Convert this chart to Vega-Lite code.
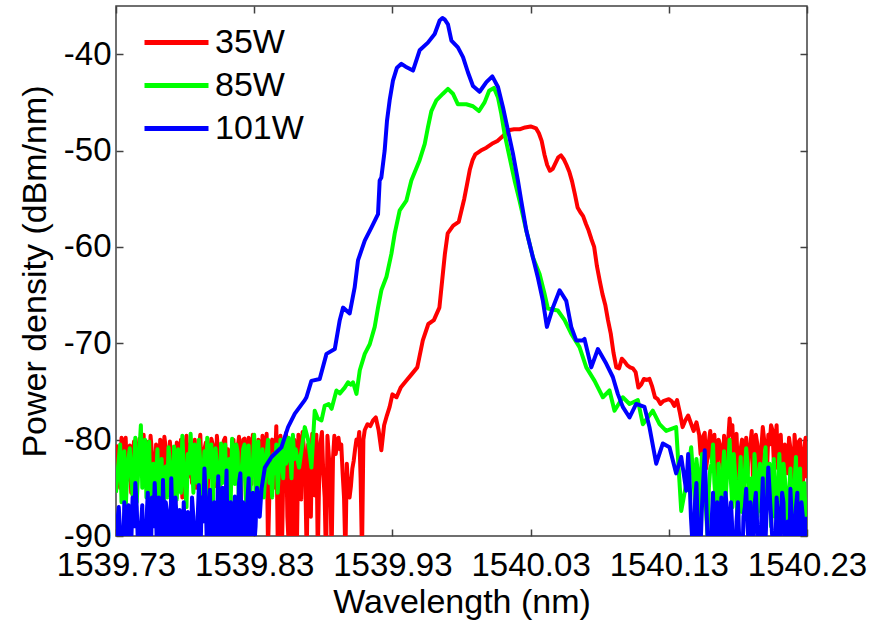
{
"$schema": "https://vega.github.io/schema/vega-lite/v6.json",
"width": 691, "height": 530,
"autosize": {"type": "none"},
"padding": {"left": 116, "top": 6, "right": 77, "bottom": 85},
"background": "white",
"config": {
 "view": {"stroke": "#404040", "strokeWidth": 1.5},
 "font": "Liberation Sans",
 "axis": {"grid": false, "domain": false, "tickColor": "#404040", "tickWidth": 1.5, "tickSize": -7,
  "labelFont": "Liberation Sans", "labelFontSize": 33, "labelColor": "#000",
  "titleFont": "Liberation Sans", "titleFontSize": 34, "titleFontWeight": "normal", "titleColor": "#000",
  "labelFlush": false, "labelOverlap": false, "labelBound": false}
},
"datasets": {
"r": [
{"w":1539.730,"p":-80.5},{"w":1539.732,"p":-83.0},{"w":1539.734,"p":-79.8},{"w":1539.736,"p":-81.5},{"w":1539.738,"p":-84.2},
{"w":1539.740,"p":-80.6},{"w":1539.742,"p":-82.8},{"w":1539.744,"p":-86.5},{"w":1539.746,"p":-81.0},{"w":1539.748,"p":-83.5},
{"w":1539.750,"p":-79.5},{"w":1539.752,"p":-80.2},{"w":1539.754,"p":-84.0},{"w":1539.756,"p":-81.3},{"w":1539.758,"p":-88.0},
{"w":1539.760,"p":-82.5},{"w":1539.762,"p":-80.0},{"w":1539.764,"p":-83.7},{"w":1539.766,"p":-80.9},{"w":1539.768,"p":-85.5},
{"w":1539.770,"p":-81.8},{"w":1539.772,"p":-84.4},{"w":1539.774,"p":-80.3},{"w":1539.776,"p":-82.6},{"w":1539.778,"p":-86.0},
{"w":1539.780,"p":-81.2},{"w":1539.782,"p":-83.9},{"w":1539.784,"p":-80.4},{"w":1539.786,"p":-82.1},{"w":1539.788,"p":-85.0},
{"w":1539.790,"p":-80.8},{"w":1539.792,"p":-83.3},{"w":1539.794,"p":-81.0},{"w":1539.796,"p":-87.0},{"w":1539.798,"p":-82.0},
{"w":1539.800,"p":-80.5},{"w":1539.802,"p":-84.8},{"w":1539.804,"p":-81.6},{"w":1539.806,"p":-83.0},{"w":1539.808,"p":-80.1},
{"w":1539.810,"p":-85.7},{"w":1539.812,"p":-82.4},{"w":1539.814,"p":-80.6},{"w":1539.816,"p":-84.1},{"w":1539.818,"p":-81.0},
{"w":1539.820,"p":-88.5},{"w":1539.822,"p":-80.0},{"w":1539.824,"p":-82.9},{"w":1539.826,"p":-79.8},{"w":1539.828,"p":-84.6},
{"w":1539.830,"p":-80.4},{"w":1539.832,"p":-86.8},{"w":1539.834,"p":-81.1},{"w":1539.836,"p":-79.6},{"w":1539.838,"p":-83.5},
{"w":1539.840,"p":-91.5},{"w":1539.842,"p":-80.9},{"w":1539.844,"p":-85.0},{"w":1539.846,"p":-78.6},{"w":1539.848,"p":-81.4},
{"w":1539.850,"p":-92.0},{"w":1539.852,"p":-82.0},{"w":1539.854,"p":-88.0},{"w":1539.856,"p":-80.1},{"w":1539.858,"p":-93.0},
{"w":1539.860,"p":-84.5},{"w":1539.862,"p":-79.5},{"w":1539.864,"p":-86.2},{"w":1539.866,"p":-81.0},{"w":1539.868,"p":-92.5},
{"w":1539.870,"p":-82.2},{"w":1539.872,"p":-79.4},{"w":1539.874,"p":-85.8},{"w":1539.876,"p":-92.0},{"w":1539.878,"p":-80.3},
{"w":1539.880,"p":-83.6},{"w":1539.882,"p":-93.0},{"w":1539.884,"p":-81.7},{"w":1539.886,"p":-92.0},{"w":1539.888,"p":-79.6},
{"w":1539.890,"p":-80.5},{"w":1539.892,"p":-81.0},{"w":1539.894,"p":-83.5},{"w":1539.896,"p":-92.0},{"w":1539.898,"p":-85.0},
{"w":1539.900,"p":-84.8},{"w":1539.902,"p":-82.2},{"w":1539.904,"p":-80.0},{"w":1539.906,"p":-79.2},{"w":1539.908,"p":-92.0},
{"w":1539.910,"p":-79.0},{"w":1539.912,"p":-78.4},{"w":1539.914,"p":-78.6},{"w":1539.916,"p":-78.0},{"w":1539.918,"p":-77.7},
{"w":1539.920,"p":-79.0},{"w":1539.922,"p":-81.1},{"w":1539.924,"p":-78.5},{"w":1539.926,"p":-77.5},{"w":1539.928,"p":-76.6},
{"w":1539.930,"p":-75.3},{"w":1539.933,"p":-75.6},{"w":1539.936,"p":-74.6},{"w":1539.940,"p":-73.9},{"w":1539.944,"p":-73.2},
{"w":1539.948,"p":-72.5},{"w":1539.952,"p":-69.7},{"w":1539.956,"p":-68.0},{"w":1539.960,"p":-67.6},{"w":1539.964,"p":-66.3},
{"w":1539.966,"p":-63.5},{"w":1539.968,"p":-60.7},{"w":1539.970,"p":-58.6},{"w":1539.974,"p":-57.8},{"w":1539.978,"p":-57.4},
{"w":1539.980,"p":-56.2},{"w":1539.982,"p":-55.0},{"w":1539.984,"p":-53.5},{"w":1539.986,"p":-52.0},{"w":1539.988,"p":-51.0},
{"w":1539.990,"p":-50.4},{"w":1539.994,"p":-50.0},{"w":1539.998,"p":-49.7},{"w":1540.002,"p":-49.3},{"w":1540.006,"p":-49.0},
{"w":1540.010,"p":-48.5},{"w":1540.014,"p":-47.9},{"w":1540.018,"p":-47.8},{"w":1540.022,"p":-47.8},{"w":1540.026,"p":-47.6},
{"w":1540.030,"p":-47.5},{"w":1540.034,"p":-47.7},{"w":1540.036,"p":-48.2},{"w":1540.038,"p":-49.0},{"w":1540.040,"p":-50.4},
{"w":1540.042,"p":-51.5},{"w":1540.044,"p":-52.1},{"w":1540.046,"p":-51.9},{"w":1540.048,"p":-51.3},{"w":1540.050,"p":-50.7},
{"w":1540.052,"p":-50.5},{"w":1540.054,"p":-50.9},{"w":1540.056,"p":-51.5},{"w":1540.058,"p":-52.2},{"w":1540.060,"p":-53.2},
{"w":1540.062,"p":-54.5},{"w":1540.064,"p":-55.9},{"w":1540.066,"p":-56.4},{"w":1540.068,"p":-56.8},{"w":1540.070,"p":-57.6},
{"w":1540.072,"p":-58.3},{"w":1540.074,"p":-59.2},{"w":1540.076,"p":-60.0},{"w":1540.078,"p":-62.0},{"w":1540.080,"p":-63.5},
{"w":1540.082,"p":-64.9},{"w":1540.084,"p":-66.0},{"w":1540.086,"p":-67.6},{"w":1540.088,"p":-69.0},{"w":1540.090,"p":-71.0},
{"w":1540.092,"p":-72.5},{"w":1540.094,"p":-72.6},{"w":1540.096,"p":-71.6},{"w":1540.098,"p":-71.9},{"w":1540.100,"p":-72.3},
{"w":1540.102,"p":-72.5},{"w":1540.104,"p":-72.6},{"w":1540.106,"p":-73.0},{"w":1540.108,"p":-74.6},{"w":1540.110,"p":-74.3},
{"w":1540.112,"p":-73.7},{"w":1540.114,"p":-73.8},{"w":1540.116,"p":-73.7},{"w":1540.118,"p":-74.5},{"w":1540.120,"p":-75.6},
{"w":1540.122,"p":-75.8},{"w":1540.124,"p":-76.3},{"w":1540.126,"p":-76.0},{"w":1540.128,"p":-75.9},{"w":1540.130,"p":-75.8},
{"w":1540.132,"p":-76.0},{"w":1540.134,"p":-76.5},{"w":1540.136,"p":-75.9},{"w":1540.138,"p":-77.2},{"w":1540.140,"p":-78.7},
{"w":1540.142,"p":-78.0},{"w":1540.144,"p":-77.5},{"w":1540.146,"p":-78.3},{"w":1540.148,"p":-79.1},{"w":1540.150,"p":-78.2},
{"w":1540.152,"p":-79.5},{"w":1540.154,"p":-80.5},{"w":1540.156,"p":-79.3},{"w":1540.158,"p":-81.8},{"w":1540.160,"p":-79.1},
{"w":1540.162,"p":-80.6},{"w":1540.164,"p":-82.5},{"w":1540.166,"p":-80.0},{"w":1540.168,"p":-81.2},{"w":1540.170,"p":-79.6},
{"w":1540.172,"p":-83.0},{"w":1540.174,"p":-77.8},{"w":1540.176,"p":-78.5},{"w":1540.178,"p":-80.4},{"w":1540.180,"p":-83.2},
{"w":1540.182,"p":-81.0},{"w":1540.184,"p":-85.8},{"w":1540.186,"p":-79.8},{"w":1540.188,"p":-80.7},{"w":1540.190,"p":-79.1},
{"w":1540.192,"p":-82.6},{"w":1540.194,"p":-80.4},{"w":1540.196,"p":-85.0},{"w":1540.198,"p":-78.7},{"w":1540.200,"p":-81.0},
{"w":1540.202,"p":-79.5},{"w":1540.204,"p":-78.5},{"w":1540.206,"p":-82.3},{"w":1540.208,"p":-78.5},{"w":1540.210,"p":-80.1},
{"w":1540.212,"p":-82.8},{"w":1540.214,"p":-80.5},{"w":1540.216,"p":-83.5},{"w":1540.218,"p":-80.9},{"w":1540.220,"p":-86.0},
{"w":1540.222,"p":-81.5},{"w":1540.224,"p":-80.2},{"w":1540.226,"p":-83.4},{"w":1540.228,"p":-81.0},{"w":1540.230,"p":-84.0},
{"w":1539.731,"p":-82.0},{"w":1539.733,"p":-85.0},{"w":1539.735,"p":-81.8},{"w":1539.737,"p":-79.8},{"w":1539.739,"p":-82.5},
{"w":1539.741,"p":-85.5},{"w":1539.743,"p":-80.2},{"w":1539.745,"p":-83.0},{"w":1539.747,"p":-79.9},{"w":1539.749,"p":-82.0},
{"w":1539.751,"p":-84.5},{"w":1539.753,"p":-81.5},{"w":1539.755,"p":-79.6},{"w":1539.757,"p":-83.0},{"w":1539.759,"p":-80.5},
{"w":1539.761,"p":-84.0},{"w":1539.763,"p":-81.0},{"w":1539.765,"p":-79.7},{"w":1539.767,"p":-82.6},{"w":1539.769,"p":-80.2},
{"w":1539.771,"p":-83.0},{"w":1539.773,"p":-86.5},{"w":1539.775,"p":-81.5},{"w":1539.777,"p":-80.0},{"w":1539.779,"p":-82.8},
{"w":1539.781,"p":-79.6},{"w":1539.783,"p":-81.5},{"w":1539.785,"p":-84.5},{"w":1539.787,"p":-80.0},{"w":1539.789,"p":-82.5},
{"w":1539.791,"p":-79.5},{"w":1539.793,"p":-85.5},{"w":1539.795,"p":-80.3},{"w":1539.797,"p":-82.5},{"w":1539.799,"p":-79.9},
{"w":1539.801,"p":-82.0},{"w":1539.803,"p":-79.6},{"w":1539.805,"p":-84.0},{"w":1539.807,"p":-82.2},{"w":1539.809,"p":-79.8},
{"w":1539.811,"p":-81.0},{"w":1539.813,"p":-84.5},{"w":1539.815,"p":-80.0},{"w":1539.817,"p":-82.0},{"w":1539.819,"p":-79.7},
{"w":1539.821,"p":-83.5},{"w":1539.823,"p":-79.9},{"w":1539.825,"p":-85.5},{"w":1539.827,"p":-81.0},{"w":1539.829,"p":-79.5},
{"w":1539.831,"p":-82.0},{"w":1539.833,"p":-80.0},{"w":1539.835,"p":-84.5},{"w":1539.837,"p":-81.5},{"w":1539.839,"p":-79.4},
{"w":1539.841,"p":-85.5},{"w":1539.843,"p":-80.0},{"w":1539.845,"p":-82.5},{"w":1539.847,"p":-90.5},{"w":1539.849,"p":-79.6},
{"w":1539.851,"p":-84.0},{"w":1539.853,"p":-79.3},{"w":1539.855,"p":-91.0},{"w":1539.857,"p":-82.0},{"w":1539.859,"p":-80.0},
{"w":1539.861,"p":-90.0},{"w":1539.863,"p":-82.5},{"w":1539.865,"p":-79.2},{"w":1539.867,"p":-84.0},{"w":1539.869,"p":-80.5},
{"w":1539.871,"p":-88.0},{"w":1539.873,"p":-81.5},{"w":1539.875,"p":-79.5},{"w":1539.877,"p":-84.0},{"w":1539.879,"p":-79.2},
{"w":1539.881,"p":-86.0},{"w":1539.883,"p":-79.6},{"w":1539.885,"p":-84.0},{"w":1539.887,"p":-82.0},{"w":1539.889,"p":-81.5},
{"w":1539.891,"p":-79.8},{"w":1539.893,"p":-80.5},{"w":1539.895,"p":-86.0},{"w":1539.897,"p":-82.5},{"w":1539.899,"p":-86.0},
{"w":1539.901,"p":-83.0},{"w":1539.903,"p":-81.0},{"w":1539.905,"p":-80.5},{"w":1539.907,"p":-84.0},{"w":1539.909,"p":-80.0},
{"w":1540.153,"p":-81.5},{"w":1540.155,"p":-79.6},{"w":1540.157,"p":-83.0},{"w":1540.159,"p":-80.2},{"w":1540.161,"p":-82.0},
{"w":1540.163,"p":-79.5},{"w":1540.165,"p":-84.0},{"w":1540.167,"p":-80.5},{"w":1540.169,"p":-83.5},{"w":1540.171,"p":-81.0},
{"w":1540.173,"p":-80.0},{"w":1540.175,"p":-79.5},{"w":1540.177,"p":-82.0},{"w":1540.179,"p":-79.4},{"w":1540.181,"p":-84.5},
{"w":1540.183,"p":-80.0},{"w":1540.185,"p":-82.5},{"w":1540.187,"p":-83.5},{"w":1540.189,"p":-80.5},{"w":1540.191,"p":-85.0},
{"w":1540.193,"p":-79.5},{"w":1540.195,"p":-82.0},{"w":1540.197,"p":-80.8},{"w":1540.199,"p":-80.0},{"w":1540.201,"p":-83.5},
{"w":1540.203,"p":-80.5},{"w":1540.205,"p":-79.0},{"w":1540.207,"p":-80.5},{"w":1540.209,"p":-83.0},{"w":1540.211,"p":-79.5},
{"w":1540.213,"p":-85.5},{"w":1540.215,"p":-81.0},{"w":1540.217,"p":-79.8},{"w":1540.219,"p":-82.5},{"w":1540.221,"p":-79.5},
{"w":1540.223,"p":-83.5},{"w":1540.225,"p":-80.0},{"w":1540.227,"p":-85.0},{"w":1540.229,"p":-79.8}
],
"g": [
{"w":1539.730,"p":-85.5},{"w":1539.732,"p":-82.0},{"w":1539.734,"p":-86.5},{"w":1539.736,"p":-81.2},{"w":1539.738,"p":-84.0},
{"w":1539.740,"p":-80.9},{"w":1539.742,"p":-85.8},{"w":1539.744,"p":-79.8},{"w":1539.746,"p":-83.5},{"w":1539.748,"p":-78.5},
{"w":1539.750,"p":-82.5},{"w":1539.752,"p":-86.0},{"w":1539.754,"p":-80.2},{"w":1539.756,"p":-84.5},{"w":1539.758,"p":-87.5},
{"w":1539.760,"p":-81.0},{"w":1539.762,"p":-85.2},{"w":1539.764,"p":-89.0},{"w":1539.766,"p":-82.8},{"w":1539.768,"p":-80.8},
{"w":1539.770,"p":-84.0},{"w":1539.772,"p":-80.7},{"w":1539.774,"p":-86.2},{"w":1539.776,"p":-83.0},{"w":1539.778,"p":-79.6},
{"w":1539.780,"p":-84.8},{"w":1539.782,"p":-81.5},{"w":1539.784,"p":-79.4},{"w":1539.786,"p":-85.5},{"w":1539.788,"p":-82.0},
{"w":1539.790,"p":-80.0},{"w":1539.792,"p":-86.5},{"w":1539.794,"p":-81.2},{"w":1539.796,"p":-79.8},{"w":1539.798,"p":-83.9},
{"w":1539.800,"p":-87.0},{"w":1539.802,"p":-80.9},{"w":1539.804,"p":-85.0},{"w":1539.806,"p":-80.4},{"w":1539.808,"p":-83.2},
{"w":1539.810,"p":-86.0},{"w":1539.812,"p":-82.0},{"w":1539.814,"p":-79.9},{"w":1539.816,"p":-84.6},{"w":1539.818,"p":-81.3},
{"w":1539.820,"p":-85.8},{"w":1539.822,"p":-81.0},{"w":1539.824,"p":-86.4},{"w":1539.826,"p":-80.6},{"w":1539.828,"p":-83.0},
{"w":1539.830,"p":-79.5},{"w":1539.832,"p":-82.8},{"w":1539.834,"p":-85.5},{"w":1539.836,"p":-81.0},{"w":1539.838,"p":-83.7},
{"w":1539.840,"p":-80.0},{"w":1539.842,"p":-82.5},{"w":1539.844,"p":-81.5},{"w":1539.846,"p":-80.5},{"w":1539.848,"p":-82.9},
{"w":1539.850,"p":-81.6},{"w":1539.852,"p":-79.8},{"w":1539.854,"p":-82.0},{"w":1539.856,"p":-81.5},{"w":1539.858,"p":-79.5},
{"w":1539.860,"p":-81.0},{"w":1539.8625,"p":-82.9},{"w":1539.8666,"p":-78.7},{"w":1539.869,"p":-80.0},{"w":1539.8714,"p":-82.9},
{"w":1539.8738,"p":-77.0},{"w":1539.876,"p":-77.8},{"w":1539.8787,"p":-78.0},{"w":1539.881,"p":-76.5},{"w":1539.8839,"p":-76.3},
{"w":1539.886,"p":-76.8},{"w":1539.8895,"p":-74.9},{"w":1539.892,"p":-75.2},{"w":1539.8955,"p":-74.6},{"w":1539.8979,"p":-74.05},
{"w":1539.900,"p":-74.3},{"w":1539.9015,"p":-74.05},{"w":1539.904,"p":-75.25},{"w":1539.9064,"p":-72.8},{"w":1539.910,"p":-71.1},
{"w":1539.9136,"p":-70.1},{"w":1539.9172,"p":-68.3},{"w":1539.9196,"p":-66.3},{"w":1539.922,"p":-64.5},{"w":1539.9257,"p":-63.1},
{"w":1539.9293,"p":-60.7},{"w":1539.9317,"p":-58.6},{"w":1539.9353,"p":-56.2},{"w":1539.9401,"p":-55.2},{"w":1539.9437,"p":-53.1},
{"w":1539.9497,"p":-51.0},{"w":1539.9534,"p":-49.3},{"w":1539.9557,"p":-47.6},{"w":1539.9582,"p":-45.9},{"w":1539.9618,"p":-44.8},
{"w":1539.9666,"p":-44.1},{"w":1539.9702,"p":-43.6},{"w":1539.9738,"p":-44.1},{"w":1539.9774,"p":-45.2},{"w":1539.9835,"p":-45.2},
{"w":1539.9883,"p":-45.4},{"w":1539.9926,"p":-45.9},{"w":1539.9967,"p":-45.0},{"w":1540.000,"p":-43.8},{"w":1540.0035,"p":-43.5},
{"w":1540.0064,"p":-44.5},{"w":1540.0088,"p":-46.2},{"w":1540.0112,"p":-48.3},{"w":1540.0148,"p":-50.7},{"w":1540.0184,"p":-53.1},
{"w":1540.022,"p":-55.2},{"w":1540.0269,"p":-58.3},{"w":1540.0317,"p":-61.1},{"w":1540.0365,"p":-62.8},{"w":1540.040,"p":-64.8},
{"w":1540.0425,"p":-66.4},{"w":1540.046,"p":-66.5},{"w":1540.0497,"p":-66.6},{"w":1540.0546,"p":-67.6},{"w":1540.0594,"p":-69.0},
{"w":1540.0654,"p":-70.4},{"w":1540.0703,"p":-72.5},{"w":1540.0763,"p":-73.9},{"w":1540.0823,"p":-75.6},{"w":1540.0871,"p":-74.9},
{"w":1540.0907,"p":-77.0},{"w":1540.0967,"p":-75.6},{"w":1540.1016,"p":-76.3},{"w":1540.1076,"p":-75.9},{"w":1540.1112,"p":-78.4},
{"w":1540.1184,"p":-77.0},{"w":1540.1233,"p":-78.4},{"w":1540.1281,"p":-79.1},{"w":1540.1353,"p":-78.7},{"w":1540.139,"p":-87.4},
{"w":1540.1426,"p":-84.6},{"w":1540.1462,"p":-80.8},{"w":1540.148,"p":-84.5},{"w":1540.150,"p":-82.0},{"w":1540.152,"p":-88.0},
{"w":1540.154,"p":-81.5},{"w":1540.156,"p":-85.0},{"w":1540.158,"p":-90.0},{"w":1540.160,"p":-83.0},{"w":1540.162,"p":-80.5},
{"w":1540.164,"p":-86.5},{"w":1540.166,"p":-82.5},{"w":1540.168,"p":-88.5},{"w":1540.170,"p":-81.2},{"w":1540.172,"p":-84.0},
{"w":1540.174,"p":-80.0},{"w":1540.176,"p":-87.0},{"w":1540.178,"p":-83.5},{"w":1540.180,"p":-89.5},{"w":1540.182,"p":-81.8},
{"w":1540.184,"p":-85.5},{"w":1540.186,"p":-80.9},{"w":1540.188,"p":-87.5},{"w":1540.190,"p":-84.0},{"w":1540.192,"p":-81.5},
{"w":1540.194,"p":-88.0},{"w":1540.196,"p":-82.5},{"w":1540.198,"p":-86.0},{"w":1540.200,"p":-80.8},{"w":1540.202,"p":-84.5},
{"w":1540.204,"p":-89.0},{"w":1540.206,"p":-82.0},{"w":1540.208,"p":-86.5},{"w":1540.210,"p":-81.5},{"w":1540.212,"p":-88.0},
{"w":1540.214,"p":-84.0},{"w":1540.216,"p":-90.5},{"w":1540.218,"p":-83.0},{"w":1540.220,"p":-87.0},{"w":1540.222,"p":-81.8},
{"w":1540.224,"p":-85.5},{"w":1540.226,"p":-89.5},{"w":1540.228,"p":-84.5},{"w":1540.230,"p":-86.0},
{"w":1539.731,"p":-83.8},{"w":1539.733,"p":-80.5},{"w":1539.735,"p":-83.0},{"w":1539.737,"p":-87.2},{"w":1539.739,"p":-82.0},
{"w":1539.741,"p":-84.0},{"w":1539.743,"p":-82.5},{"w":1539.745,"p":-86.5},{"w":1539.747,"p":-81.0},{"w":1539.749,"p":-85.0},
{"w":1539.751,"p":-80.0},{"w":1539.753,"p":-83.5},{"w":1539.755,"p":-87.5},{"w":1539.757,"p":-82.5},{"w":1539.759,"p":-84.0},
{"w":1539.761,"p":-87.0},{"w":1539.763,"p":-82.0},{"w":1539.765,"p":-85.5},{"w":1539.767,"p":-86.0},{"w":1539.769,"p":-82.5},
{"w":1539.771,"p":-86.5},{"w":1539.773,"p":-83.0},{"w":1539.775,"p":-81.0},{"w":1539.777,"p":-85.5},{"w":1539.779,"p":-82.5},
{"w":1539.781,"p":-87.0},{"w":1539.783,"p":-83.5},{"w":1539.785,"p":-82.5},{"w":1539.787,"p":-80.5},{"w":1539.789,"p":-84.5},
{"w":1539.791,"p":-82.5},{"w":1539.793,"p":-84.0},{"w":1539.795,"p":-86.5},{"w":1539.797,"p":-82.5},{"w":1539.799,"p":-80.5},
{"w":1539.801,"p":-83.5},{"w":1539.803,"p":-82.5},{"w":1539.805,"p":-87.5},{"w":1539.807,"p":-84.5},{"w":1539.809,"p":-80.5},
{"w":1539.811,"p":-84.5},{"w":1539.813,"p":-86.5},{"w":1539.815,"p":-81.5},{"w":1539.817,"p":-80.5},{"w":1539.819,"p":-87.0},
{"w":1539.821,"p":-83.0},{"w":1539.823,"p":-80.5},{"w":1539.825,"p":-83.5},{"w":1539.827,"p":-86.5},{"w":1539.829,"p":-82.5},
{"w":1539.831,"p":-86.0},{"w":1539.833,"p":-80.2},{"w":1539.835,"p":-83.0},{"w":1539.837,"p":-86.0},{"w":1539.839,"p":-81.5},
{"w":1539.841,"p":-84.5},{"w":1539.843,"p":-86.0},{"w":1539.845,"p":-83.5},{"w":1539.847,"p":-85.5},{"w":1539.849,"p":-80.0},
{"w":1539.851,"p":-84.0},{"w":1539.853,"p":-82.5},{"w":1539.855,"p":-79.8},{"w":1539.857,"p":-84.0},{"w":1539.859,"p":-82.0},
{"w":1540.147,"p":-82.5},{"w":1540.149,"p":-86.5},{"w":1540.151,"p":-83.5},{"w":1540.153,"p":-84.5},{"w":1540.155,"p":-82.5},
{"w":1540.157,"p":-87.5},{"w":1540.159,"p":-85.0},{"w":1540.161,"p":-82.5},{"w":1540.163,"p":-84.5},{"w":1540.165,"p":-88.0},
{"w":1540.167,"p":-85.0},{"w":1540.169,"p":-83.5},{"w":1540.171,"p":-86.5},{"w":1540.173,"p":-82.5},{"w":1540.175,"p":-84.5},
{"w":1540.177,"p":-81.5},{"w":1540.179,"p":-86.0},{"w":1540.181,"p":-84.5},{"w":1540.183,"p":-87.5},{"w":1540.185,"p":-83.5},
{"w":1540.187,"p":-82.5},{"w":1540.189,"p":-86.0},{"w":1540.191,"p":-88.5},{"w":1540.193,"p":-83.5},{"w":1540.195,"p":-85.5},
{"w":1540.197,"p":-87.5},{"w":1540.199,"p":-82.5},{"w":1540.201,"p":-86.5},{"w":1540.203,"p":-82.5},{"w":1540.205,"p":-85.5},
{"w":1540.207,"p":-88.0},{"w":1540.209,"p":-84.5},{"w":1540.211,"p":-86.0},{"w":1540.213,"p":-82.5},{"w":1540.215,"p":-86.5},
{"w":1540.217,"p":-85.5},{"w":1540.219,"p":-88.5},{"w":1540.221,"p":-84.5},{"w":1540.223,"p":-87.5},{"w":1540.225,"p":-83.0},
{"w":1540.227,"p":-86.5},{"w":1540.229,"p":-88.5}
],
"b": [
{"w":1539.730,"p":-91.0},{"w":1539.732,"p":-87.0},{"w":1539.734,"p":-92.5},{"w":1539.736,"p":-86.5},{"w":1539.738,"p":-88.0},
{"w":1539.740,"p":-93.0},{"w":1539.742,"p":-86.0},{"w":1539.744,"p":-84.5},{"w":1539.746,"p":-91.5},{"w":1539.748,"p":-89.0},
{"w":1539.750,"p":-94.0},{"w":1539.752,"p":-88.6},{"w":1539.754,"p":-92.0},{"w":1539.756,"p":-86.0},{"w":1539.758,"p":-84.5},
{"w":1539.760,"p":-93.5},{"w":1539.762,"p":-89.5},{"w":1539.764,"p":-84.2},{"w":1539.766,"p":-86.5},{"w":1539.768,"p":-92.0},
{"w":1539.770,"p":-84.0},{"w":1539.772,"p":-95.0},{"w":1539.774,"p":-88.5},{"w":1539.776,"p":-87.3},{"w":1539.778,"p":-93.0},
{"w":1539.780,"p":-90.5},{"w":1539.782,"p":-87.5},{"w":1539.784,"p":-94.0},{"w":1539.786,"p":-88.0},{"w":1539.788,"p":-91.5},
{"w":1539.790,"p":-84.7},{"w":1539.792,"p":-86.0},{"w":1539.794,"p":-83.0},{"w":1539.796,"p":-92.5},{"w":1539.798,"p":-85.2},
{"w":1539.800,"p":-89.5},{"w":1539.802,"p":-93.0},{"w":1539.804,"p":-83.8},{"w":1539.806,"p":-87.5},{"w":1539.808,"p":-91.0},
{"w":1539.810,"p":-83.2},{"w":1539.812,"p":-88.0},{"w":1539.814,"p":-94.0},{"w":1539.816,"p":-85.9},{"w":1539.818,"p":-90.0},
{"w":1539.820,"p":-83.5},{"w":1539.822,"p":-86.5},{"w":1539.824,"p":-92.0},{"w":1539.826,"p":-84.0},{"w":1539.828,"p":-87.8},
{"w":1539.830,"p":-91.0},{"w":1539.832,"p":-85.0},{"w":1539.834,"p":-88.0},{"w":1539.8353,"p":-85.1},{"w":1539.8377,"p":-82.9},
{"w":1539.8425,"p":-81.8},{"w":1539.8497,"p":-80.8},{"w":1539.8545,"p":-78.7},{"w":1539.8594,"p":-77.3},{"w":1539.8666,"p":-75.9},
{"w":1539.8678,"p":-75.6},{"w":1539.8714,"p":-73.9},{"w":1539.8774,"p":-73.7},{"w":1539.8823,"p":-71.1},{"w":1539.8883,"p":-70.6},
{"w":1539.8919,"p":-67.6},{"w":1539.8943,"p":-66.3},{"w":1539.8991,"p":-66.9},{"w":1539.9027,"p":-64.2},{"w":1539.9051,"p":-61.4},
{"w":1539.910,"p":-59.35},{"w":1539.9148,"p":-58.0},{"w":1539.9196,"p":-56.6},{"w":1539.9208,"p":-53.1},{"w":1539.922,"p":-52.8},
{"w":1539.9244,"p":-50.0},{"w":1539.9261,"p":-46.9},{"w":1539.928,"p":-44.8},{"w":1539.9304,"p":-42.75},{"w":1539.9333,"p":-41.4},
{"w":1539.9365,"p":-41.0},{"w":1539.9396,"p":-41.3},{"w":1539.9449,"p":-41.7},{"w":1539.9497,"p":-39.6},{"w":1539.9557,"p":-38.8},
{"w":1539.9606,"p":-37.9},{"w":1539.9642,"p":-36.5},{"w":1539.9662,"p":-36.25},{"w":1539.9678,"p":-36.4},{"w":1539.9702,"p":-36.9},
{"w":1539.9727,"p":-38.6},{"w":1539.9774,"p":-39.3},{"w":1539.9811,"p":-40.3},{"w":1539.9847,"p":-41.9},{"w":1539.9883,"p":-43.3},
{"w":1539.9931,"p":-43.9},{"w":1539.998,"p":-42.9},{"w":1540.0023,"p":-42.3},{"w":1540.0064,"p":-43.4},{"w":1540.010,"p":-45.5},
{"w":1540.0136,"p":-47.9},{"w":1540.0172,"p":-50.3},{"w":1540.0208,"p":-53.1},{"w":1540.0232,"p":-55.2},{"w":1540.0269,"p":-58.3},
{"w":1540.0317,"p":-61.1},{"w":1540.0353,"p":-63.2},{"w":1540.0389,"p":-65.6},{"w":1540.0418,"p":-68.3},{"w":1540.0461,"p":-66.3},
{"w":1540.051,"p":-64.5},{"w":1540.0558,"p":-65.6},{"w":1540.0594,"p":-68.3},{"w":1540.063,"p":-69.7},{"w":1540.0678,"p":-69.7},
{"w":1540.069,"p":-69.55},{"w":1540.0739,"p":-72.5},{"w":1540.0787,"p":-70.6},{"w":1540.0847,"p":-72.1},{"w":1540.0895,"p":-73.5},
{"w":1540.0931,"p":-75.25},{"w":1540.0967,"p":-76.6},{"w":1540.1016,"p":-77.7},{"w":1540.1064,"p":-76.3},{"w":1540.1124,"p":-76.6},
{"w":1540.116,"p":-78.7},{"w":1540.1209,"p":-82.5},{"w":1540.1257,"p":-80.4},{"w":1540.1305,"p":-80.8},{"w":1540.1353,"p":-83.5},
{"w":1540.139,"p":-81.8},{"w":1540.1426,"p":-85.3},{"w":1540.144,"p":-81.5},{"w":1540.146,"p":-88.0},{"w":1540.148,"p":-92.0},
{"w":1540.150,"p":-84.5},{"w":1540.152,"p":-95.0},{"w":1540.154,"p":-87.0},{"w":1540.156,"p":-81.1},{"w":1540.158,"p":-90.0},
{"w":1540.160,"p":-93.5},{"w":1540.162,"p":-85.5},{"w":1540.164,"p":-88.5},{"w":1540.166,"p":-94.0},{"w":1540.168,"p":-86.0},
{"w":1540.170,"p":-91.0},{"w":1540.172,"p":-87.0},{"w":1540.174,"p":-93.0},{"w":1540.176,"p":-89.5},{"w":1540.178,"p":-95.0},
{"w":1540.180,"p":-86.5},{"w":1540.182,"p":-92.0},{"w":1540.184,"p":-88.0},{"w":1540.186,"p":-85.1},{"w":1540.188,"p":-91.5},
{"w":1540.190,"p":-94.0},{"w":1540.192,"p":-86.8},{"w":1540.194,"p":-89.0},{"w":1540.196,"p":-93.5},{"w":1540.198,"p":-84.0},
{"w":1540.200,"p":-90.5},{"w":1540.202,"p":-82.9},{"w":1540.204,"p":-88.0},{"w":1540.206,"p":-94.0},{"w":1540.208,"p":-86.0},
{"w":1540.210,"p":-91.0},{"w":1540.212,"p":-85.5},{"w":1540.214,"p":-93.0},{"w":1540.216,"p":-88.5},{"w":1540.218,"p":-85.1},
{"w":1540.220,"p":-92.0},{"w":1540.222,"p":-87.0},{"w":1540.224,"p":-94.0},{"w":1540.226,"p":-86.5},{"w":1540.228,"p":-90.0},
{"w":1540.230,"p":-88.0},
{"w":1539.731,"p":-88.5},{"w":1539.733,"p":-89.5},{"w":1539.735,"p":-94.0},{"w":1539.737,"p":-90.0},{"w":1539.739,"p":-86.8},
{"w":1539.741,"p":-91.0},{"w":1539.743,"p":-89.0},{"w":1539.745,"p":-87.0},{"w":1539.747,"p":-93.5},{"w":1539.749,"p":-86.8},
{"w":1539.751,"p":-90.5},{"w":1539.753,"p":-85.5},{"w":1539.755,"p":-94.5},{"w":1539.757,"p":-89.0},{"w":1539.759,"p":-88.0},
{"w":1539.761,"p":-86.0},{"w":1539.763,"p":-92.5},{"w":1539.765,"p":-90.0},{"w":1539.767,"p":-87.5},{"w":1539.769,"p":-94.0},
{"w":1539.771,"p":-89.5},{"w":1539.773,"p":-86.0},{"w":1539.775,"p":-91.5},{"w":1539.777,"p":-89.0},{"w":1539.779,"p":-86.5},
{"w":1539.781,"p":-94.5},{"w":1539.783,"p":-89.5},{"w":1539.785,"p":-86.0},{"w":1539.787,"p":-92.5},{"w":1539.789,"p":-88.5},
{"w":1539.791,"p":-93.0},{"w":1539.793,"p":-88.5},{"w":1539.795,"p":-86.5},{"w":1539.797,"p":-88.0},{"w":1539.799,"p":-93.5},
{"w":1539.801,"p":-86.5},{"w":1539.803,"p":-88.5},{"w":1539.805,"p":-92.5},{"w":1539.807,"p":-85.0},{"w":1539.809,"p":-88.0},
{"w":1539.811,"p":-93.0},{"w":1539.813,"p":-86.5},{"w":1539.815,"p":-89.5},{"w":1539.817,"p":-92.5},{"w":1539.819,"p":-84.5},
{"w":1539.821,"p":-91.5},{"w":1539.823,"p":-88.0},{"w":1539.825,"p":-86.5},{"w":1539.827,"p":-93.0},{"w":1539.829,"p":-85.5},
{"w":1539.831,"p":-89.0},{"w":1539.833,"p":-86.2},
{"w":1540.145,"p":-84.0},{"w":1540.147,"p":-90.5},{"w":1540.149,"p":-86.5},{"w":1540.151,"p":-89.0},{"w":1540.153,"p":-91.0},
{"w":1540.155,"p":-84.0},{"w":1540.157,"p":-86.0},{"w":1540.159,"p":-94.5},{"w":1540.161,"p":-88.5},{"w":1540.163,"p":-92.0},
{"w":1540.165,"p":-86.5},{"w":1540.167,"p":-90.0},{"w":1540.169,"p":-93.5},{"w":1540.171,"p":-85.5},{"w":1540.173,"p":-89.5},
{"w":1540.175,"p":-86.5},{"w":1540.177,"p":-92.5},{"w":1540.179,"p":-88.5},{"w":1540.181,"p":-90.5},{"w":1540.183,"p":-94.5},
{"w":1540.185,"p":-87.0},{"w":1540.187,"p":-89.0},{"w":1540.189,"p":-86.5},{"w":1540.191,"p":-92.0},{"w":1540.193,"p":-85.5},
{"w":1540.195,"p":-91.0},{"w":1540.197,"p":-88.0},{"w":1540.199,"p":-92.5},{"w":1540.201,"p":-86.5},{"w":1540.203,"p":-85.5},
{"w":1540.205,"p":-90.5},{"w":1540.207,"p":-92.5},{"w":1540.209,"p":-87.5},{"w":1540.211,"p":-89.0},{"w":1540.213,"p":-86.5},
{"w":1540.215,"p":-90.0},{"w":1540.217,"p":-94.0},{"w":1540.219,"p":-88.5},{"w":1540.221,"p":-89.5},{"w":1540.223,"p":-85.5},
{"w":1540.225,"p":-91.0},{"w":1540.227,"p":-88.0},{"w":1540.229,"p":-93.5}
]
},
"resolve": {"axis": {"x": "independent", "y": "independent"}},
"layer": [
{
 "data": {"name": "r"},
 "mark": {"type": "line", "strokeWidth": 4, "clip": true, "strokeJoin": "round"},
 "encoding": {
  "x": {"field": "w", "type": "quantitative",
   "scale": {"domain": [1539.73, 1540.23], "nice": false, "zero": false},
   "axis": {"values": [1539.73, 1539.83, 1539.93, 1540.03, 1540.13, 1540.23], "format": ".2f", "title": "Wavelength (nm)", "labelPadding": 20, "titlePadding": 3}},
  "y": {"field": "p", "type": "quantitative",
   "scale": {"domain": [-90, -35], "nice": false, "zero": false},
   "axis": {"values": [-90, -80, -70, -60, -50, -40], "labelExpr": "'' + datum.value", "title": "Power density (dBm/nm)", "labelPadding": 12, "titlePadding": 11}},
  "color": {"datum": "35W", "type": "nominal",
   "scale": {"domain": ["35W", "85W", "101W"], "range": ["#ff0000", "#00ff00", "#0000ff"]},
   "legend": {"orient": "none", "legendX": 26, "legendY": 15, "title": null, "symbolType": "stroke", "symbolSize": 4096, "symbolStrokeWidth": 5,
    "labelFont": "Liberation Sans", "labelFontSize": 34, "labelColor": "#000", "labelOffset": 4, "clipHeight": 43, "rowPadding": 0, "padding": 0, "labelLimit": 0}}
 }
},
{
 "data": {"name": "g"},
 "mark": {"type": "line", "strokeWidth": 4, "clip": true, "strokeJoin": "round"},
 "encoding": {
  "x": {"field": "w", "type": "quantitative", "axis": {"orient": "top", "labels": false, "title": null, "values": [1539.73, 1539.83, 1539.93, 1540.03, 1540.13, 1540.23]}},
  "y": {"field": "p", "type": "quantitative", "axis": {"orient": "right", "labels": false, "title": null, "values": [-90, -80, -70, -60, -50, -40]}},
  "color": {"datum": "85W", "type": "nominal"}
 }
},
{
 "data": {"name": "b"},
 "mark": {"type": "line", "strokeWidth": 4, "clip": true, "strokeJoin": "round"},
 "encoding": {
  "x": {"field": "w", "type": "quantitative", "axis": null},
  "y": {"field": "p", "type": "quantitative", "axis": null},
  "color": {"datum": "101W", "type": "nominal"}
 }
}
]
}
